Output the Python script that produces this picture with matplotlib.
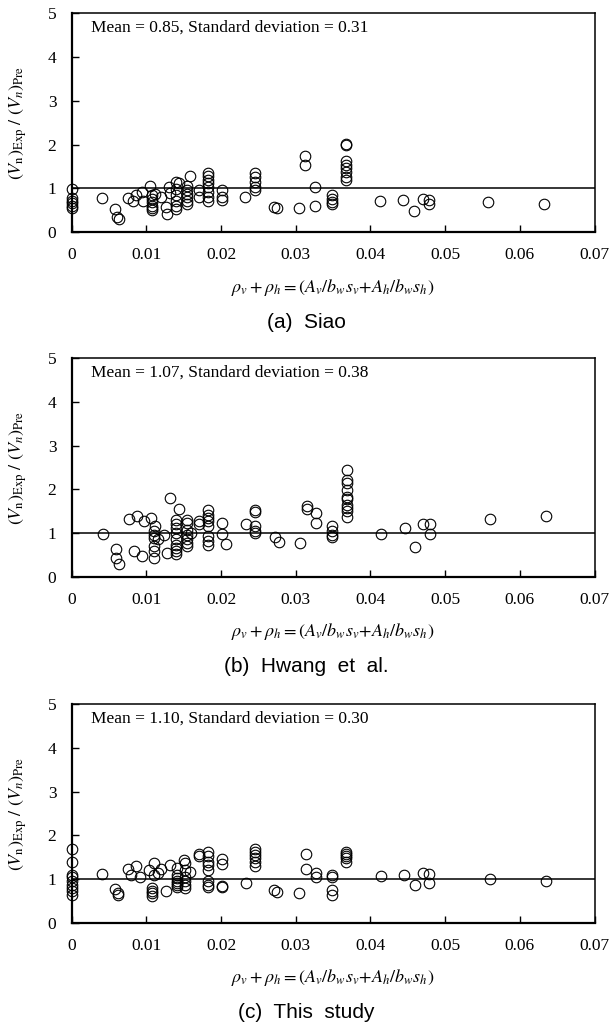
import matplotlib
matplotlib.use('Agg')
import matplotlib.pyplot as plt

plt.rcParams['font.family'] = ['Liberation Serif', 'DejaVu Serif']
plt.rcParams['mathtext.fontset'] = 'stix'

# ---------------- data ----------------
siao_x = [0, 0, 0, 0, 0, 0,
          0.0041, 0.0058, 0.0060, 0.0064,
          0.0076, 0.0082, 0.0086, 0.0094, 0.0095,
          0.0105, 0.0108, 0.0108, 0.0108, 0.0108, 0.0108, 0.0108, 0.0112,
          0.0120, 0.0126, 0.0127, 0.0130, 0.0132,
          0.0140, 0.0140, 0.0140, 0.0140, 0.0140, 0.0140, 0.0143,
          0.0154, 0.0154, 0.0154, 0.0154, 0.0154, 0.0154, 0.0158,
          0.0171, 0.0171,
          0.0182, 0.0182, 0.0182, 0.0182, 0.0182, 0.0182, 0.0182, 0.0182,
          0.0201, 0.0201, 0.0201, 0.0232,
          0.0245, 0.0245, 0.0245, 0.0245, 0.0245,
          0.0271, 0.0275, 0.0304, 0.0313, 0.0313, 0.0326, 0.0326,
          0.0348, 0.0348, 0.0348, 0.0348,
          0.0367, 0.0367, 0.0367, 0.0367, 0.0367, 0.0367, 0.0367, 0.0367,
          0.0413, 0.0444, 0.0458, 0.0470, 0.0478, 0.0478, 0.0558, 0.0632]
siao_y = [0.99, 0.78, 0.72, 0.66, 0.60, 0.55,
          0.78, 0.53, 0.35, 0.29,
          0.78, 0.72, 0.84, 0.91, 0.70,
          1.05, 0.85, 0.75, 0.68, 0.60, 0.55, 0.50, 0.88,
          0.80, 0.57, 0.41, 1.03, 0.89,
          1.15, 0.99, 0.84, 0.72, 0.60, 0.53, 1.12,
          1.05, 0.95, 0.87, 0.80, 0.72, 0.65, 1.28,
          0.95, 0.80,
          1.36, 1.28, 1.19, 1.11, 1.02, 0.91, 0.80, 0.72,
          0.95, 0.80, 0.74, 0.81,
          1.34, 1.25, 1.15, 1.03, 0.95,
          0.58, 0.55, 0.55, 1.73, 1.53, 1.03, 0.60,
          0.84, 0.76, 0.68, 0.64,
          2.02, 1.98, 1.63, 1.53, 1.46, 1.38, 1.26, 1.20,
          0.70, 0.74, 0.47, 0.76, 0.74, 0.63, 0.68, 0.64]

hwang_x = [0.0042, 0.0059, 0.0059, 0.0064,
           0.0077, 0.0083, 0.0087, 0.0094, 0.0097,
           0.0106, 0.0110, 0.0110, 0.0110, 0.0110, 0.0110, 0.0110, 0.0112,
           0.0116, 0.0124, 0.0127, 0.0132, 0.0143,
           0.0140, 0.0140, 0.0140, 0.0140, 0.0140, 0.0140, 0.0140, 0.0140, 0.0140,
           0.0154, 0.0154, 0.0154, 0.0154, 0.0154, 0.0154, 0.0154,
           0.0160, 0.0171, 0.0171,
           0.0183, 0.0183, 0.0183, 0.0183, 0.0183, 0.0183, 0.0183, 0.0183,
           0.0201, 0.0201, 0.0207, 0.0234,
           0.0245, 0.0245, 0.0245, 0.0245, 0.0245,
           0.0272, 0.0277, 0.0306, 0.0315, 0.0315, 0.0327, 0.0327,
           0.0349, 0.0349, 0.0349, 0.0349,
           0.0368, 0.0368, 0.0368, 0.0368, 0.0368, 0.0368, 0.0368, 0.0368, 0.0368, 0.0368,
           0.0414, 0.0446, 0.0460, 0.0471, 0.0480, 0.0480, 0.0560, 0.0635]
hwang_y = [0.98, 0.63, 0.44, 0.29,
           1.33, 0.59, 1.40, 0.48, 1.27,
           1.35, 1.05, 0.97, 0.89, 0.70, 0.59, 0.44, 1.17,
           0.86, 0.97, 0.55, 1.80, 1.55,
           1.31, 1.20, 1.12, 1.00, 0.86, 0.74, 0.67, 0.59, 0.52,
           1.31, 1.23, 1.08, 0.97, 0.86, 0.78, 0.70,
           1.00, 1.27, 1.20,
           1.52, 1.42, 1.35, 1.27, 1.16, 0.93, 0.82, 0.74,
           1.23, 0.98, 0.76, 1.20,
           1.54, 1.48, 1.16, 1.06, 1.00,
           0.91, 0.80, 0.77, 1.61, 1.55, 1.45, 1.23,
           1.17, 1.05, 0.97, 0.92,
           2.45, 2.22, 2.14, 1.99, 1.83, 1.77, 1.65, 1.58, 1.50, 1.37,
           0.99, 1.11, 0.68, 1.20, 1.20, 0.99, 1.33, 1.40]

study_x = [0, 0, 0, 0, 0, 0, 0, 0, 0,
           0.0040, 0.0058, 0.0062, 0.0062,
           0.0076, 0.0080, 0.0086, 0.0092,
           0.0103, 0.0110, 0.0110, 0.0108, 0.0108, 0.0108, 0.0108,
           0.0116, 0.0120, 0.0126, 0.0131,
           0.0141, 0.0141, 0.0141, 0.0141, 0.0141, 0.0141, 0.0141,
           0.0150, 0.0152, 0.0152, 0.0152, 0.0152, 0.0152, 0.0152,
           0.0158, 0.0170, 0.0170,
           0.0183, 0.0183, 0.0183, 0.0183, 0.0183, 0.0183, 0.0183, 0.0183,
           0.0201, 0.0201, 0.0201, 0.0201, 0.0233,
           0.0245, 0.0245, 0.0245, 0.0245, 0.0245, 0.0245,
           0.0271, 0.0275, 0.0305, 0.0314, 0.0314, 0.0327, 0.0327,
           0.0348, 0.0348, 0.0348, 0.0348,
           0.0367, 0.0367, 0.0367, 0.0367, 0.0367,
           0.0414, 0.0445, 0.0460, 0.0470, 0.0479, 0.0479, 0.0560, 0.0635]
study_y = [1.70, 1.40, 1.10, 1.05, 0.95, 0.87, 0.80, 0.72, 0.65,
           1.11, 0.77, 0.68, 0.64,
           1.23, 1.10, 1.29, 1.04,
           1.21, 1.36, 1.10, 0.80, 0.72, 0.68, 0.61,
           1.14, 1.23, 0.72, 1.33,
           1.25, 1.10, 1.02, 0.95, 0.91, 0.87, 0.83,
           1.44, 1.36, 1.21, 1.06, 0.95, 0.87, 0.80,
           1.17, 1.53, 1.58,
           1.63, 1.52, 1.40, 1.33, 1.21, 0.95, 0.87, 0.83,
           1.45, 1.35, 0.85, 0.82, 0.92,
           1.70, 1.63, 1.55, 1.48, 1.40, 1.29,
           0.76, 0.70, 0.68, 1.58, 1.23, 1.15, 1.05,
           1.10, 1.06, 0.76, 0.64,
           1.63, 1.58, 1.53, 1.48, 1.40,
           1.08, 1.10, 0.87, 1.15, 1.12, 0.92, 1.00, 0.95]

stats = ["Mean = 0.85, Standard deviation = 0.31",
         "Mean = 1.07, Standard deviation = 0.38",
         "Mean = 1.10, Standard deviation = 0.30"]
captions = ["(a)  Siao", "(b)  Hwang  et  al.", "(c)  This  study"]
x_ticks = [0, 0.01, 0.02, 0.03, 0.04, 0.05, 0.06, 0.07]
x_ticklabels = ["0", "0.01", "0.02", "0.03", "0.04", "0.05", "0.06", "0.07"]
y_ticks = [0, 1, 2, 3, 4, 5]

# ---------------- layout ----------------
W, H = 611, 1030
fig = plt.figure(figsize=(W / 100, H / 100), dpi=100)

left_px, right_px = 71.7, 594.5
panels = [(13.3, 232.0, 322.0), (358.0, 577.0, 667.0), (704.0, 923.0, 1013.0)]
series = [(siao_x, siao_y), (hwang_x, hwang_y), (study_x, study_y)]

xlabel = r'$\rho_v + \rho_h = (A_v/b_w s_v\!+\!A_h/b_w s_h)$'
ylabel = r'$(V_{\mathrm{n}})_{\mathrm{Exp}}\ /\ (V_n)_{\mathrm{Pre}}$'

for (top, bot, cap), (xs, ys), st, cp in zip(panels, series, stats, captions):
    ax = fig.add_axes([left_px / W, 1 - bot / H, (right_px - left_px) / W, (bot - top) / H])
    ax.plot(xs, ys, linestyle='none', marker='o', markersize=7.6,
            markerfacecolor='none', markeredgecolor='black', markeredgewidth=0.8,
            clip_on=False, zorder=3)
    ax.axhline(1.0, color='black', linewidth=1.1, zorder=2)
    ax.set_xlim(0, 0.07)
    ax.set_ylim(0, 5)
    ax.set_xticks(x_ticks)
    ax.set_xticklabels(x_ticklabels)
    ax.set_yticks(y_ticks)
    ax.tick_params(direction='in', length=5, width=1, labelsize=12.5, colors='black')
    ax.tick_params(axis='x', pad=11)
    ax.tick_params(axis='y', pad=11)
    for s in ['left', 'bottom']:
        ax.spines[s].set_linewidth(1.6)
    for s in ['top', 'right']:
        ax.spines[s].set_linewidth(1.1)
    ax.text(0.037, 0.935, st, transform=ax.transAxes, fontsize=12.5,
            ha='left', va='center')
    ax.set_xlabel(xlabel, fontsize=13, va='center')
    ax.xaxis.set_label_coords(0.5, -55 / (bot - top))
    ax.set_ylabel(ylabel, fontsize=13, va='center')
    ax.yaxis.set_label_coords((18 - left_px) / (right_px - left_px), 0.5)
    fig.text(306 / W, 1 - cap / H, cp, fontsize=15, ha='center', va='center',
             family=['Liberation Sans', 'DejaVu Sans'])

fig.savefig('out.png', dpi=100)
